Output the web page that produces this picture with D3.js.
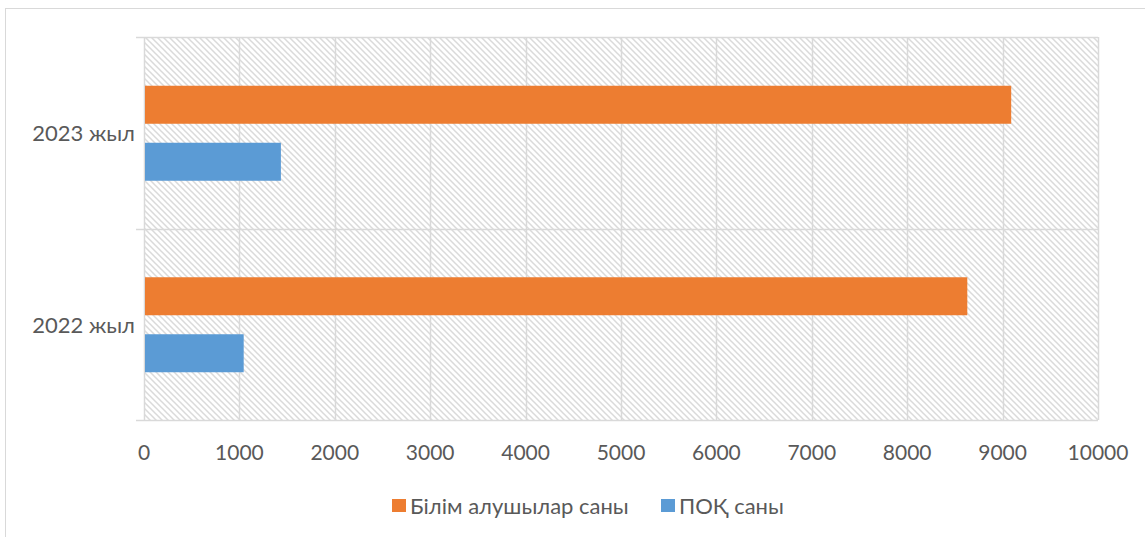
<!DOCTYPE html>
<html>
<head>
<meta charset="utf-8">
<script src="https://cdn.jsdelivr.net/npm/d3@7"></script>
<style>
  html, body { margin: 0; padding: 0; background: #fff; }
  svg { display: block; font-family: Lato, "Noto Sans", sans-serif; }
</style>
</head>
<body>
<svg id="chart" width="1145" height="537"></svg>
<script>
const categories = ["2023 жыл", "2022 жыл"];
const seriesNames = ["Білім алушылар саны", "ПОҚ саны"];
const seriesColors = ["#ED7D31", "#5B9BD5"];
const studentsValues = [9090, 8630];   // Білім алушылар саны
const staffValues = [1435, 1045];      // ПОҚ саны
const xTicks = [0, 1000, 2000, 3000, 4000, 5000, 6000, 7000, 8000, 9000, 10000];

const svg = d3.select("#chart");
const W = 1145, H = 537;
const plot = { left: 144, right: 1098, top: 37, bottom: 420 };

// outer chart border
svg.append("rect").attr("x", 5.5).attr("y", 8.5).attr("width", W + 10).attr("height", H + 10)
  .attr("fill", "none").attr("stroke", "#d9d9d9").attr("stroke-width", 1);

// hatch pattern
const defs = svg.append("defs");
const pat = defs.append("pattern").attr("id", "hatch").attr("patternUnits", "userSpaceOnUse")
  .attr("width", 6).attr("height", 6);
pat.append("path").attr("d", "M-1,-1 L7,7 M-1,5 L1,7 M5,-1 L7,1")
  .attr("stroke", "#dadada").attr("stroke-width", 1.5);

const x = d3.scaleLinear().domain([0, 10000]).range([plot.left, plot.right]);
const y = d3.scaleBand().domain(categories).range([plot.top, plot.bottom]).paddingInner(0).paddingOuter(0);

const barH = 38, gap = 19;
const groupH = 2 * barH + gap;

svg.append("rect").attr("x", plot.left).attr("y", plot.top)
  .attr("width", plot.right - plot.left).attr("height", plot.bottom - plot.top)
  .attr("fill", "url(#hatch)");

// vertical gridlines
svg.append("g").selectAll("line").data(xTicks).join("line")
  .attr("x1", d => Math.round(x(d)) + 0.5).attr("x2", d => Math.round(x(d)) + 0.5)
  .attr("y1", plot.top).attr("y2", plot.bottom)
  .attr("stroke", "#d9d9d9").attr("stroke-width", 1.5);

// category boundary lines (with outside ticks)
const bounds = [plot.top, plot.top + y.bandwidth(), plot.bottom];
svg.append("g").selectAll("line").data(bounds).join("line")
  .attr("x1", plot.left - 8).attr("x2", plot.right)
  .attr("y1", d => Math.round(d) + 0.5).attr("y2", d => Math.round(d) + 0.5)
  .attr("stroke", "#d9d9d9").attr("stroke-width", 1.5);

// bars
const rows = categories.map((c, i) => ({ cat: c, vals: [studentsValues[i], staffValues[i]] }));
rows.forEach(r => {
  const top = y(r.cat) + (y.bandwidth() - groupH) / 2 + 0.5;
  r.vals.forEach((v, s) => {
    svg.append("rect")
      .attr("x", x(0) + 1).attr("y", top + s * (barH + gap))
      .attr("width", x(v) - x(0) - 1).attr("height", barH)
      .attr("fill", seriesColors[s]);
  });
});

// x tick labels
svg.append("g").selectAll("text").data(xTicks).join("text")
  .attr("x", d => x(d)).attr("y", 453).attr("dy", "0.35em")
  .attr("text-anchor", "middle").attr("fill", "#595959").attr("font-size", 21)
  .text(d => d);

// category labels
svg.append("g").selectAll("text").data(categories).join("text")
  .attr("x", 135).attr("y", d => y(d) + y.bandwidth() / 2 + 1).attr("dy", "0.35em")
  .attr("text-anchor", "end").attr("fill", "#595959").attr("font-size", 22)
  .text(d => d);

// legend
const legendItems = [
  { name: seriesNames[0], color: seriesColors[0], x: 392 },
  { name: seriesNames[1], color: seriesColors[1], x: 661 }
];
const lg = svg.append("g");
legendItems.forEach(it => {
  lg.append("rect").attr("x", it.x).attr("y", 499).attr("width", 14).attr("height", 13).attr("fill", it.color);
  lg.append("text").attr("x", it.x + 18).attr("y", 506).attr("dy", "0.35em")
    .attr("fill", "#595959").attr("font-size", 22).text(it.name);
});
</script>
</body>
</html>
